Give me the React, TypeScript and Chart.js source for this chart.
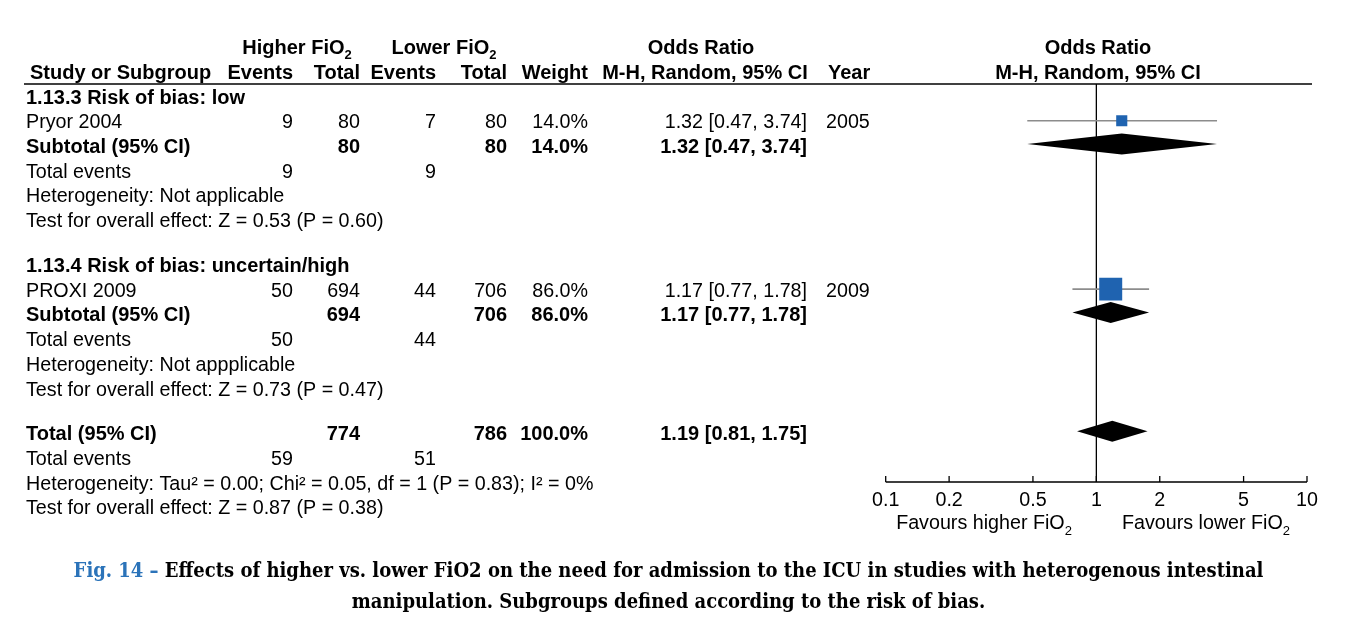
import React, { useEffect, useRef } from "react";
import { Chart, registerables } from "chart.js";

Chart.register(...registerables);

// ---------------- DATA ----------------
const studyNames = ["Pryor 2004", "PROXI 2009"];
const studyYears = ["2005", "2009"];
const studyHigherEvents = [9, 50];
const studyHigherTotal = [80, 694];
const studyLowerEvents = [7, 44];
const studyLowerTotal = [80, 706];
const studyWeights = [14.0, 86.0];
const studyOR = [1.32, 1.17];
const studyLo = [0.47, 0.77];
const studyHi = [3.74, 1.78];

const groupTitles = ["1.13.3 Risk of bias: low", "1.13.4 Risk of bias: uncertain/high"];
const groupHigherTotal = [80, 694];
const groupLowerTotal = [80, 706];
const groupWeights = [14.0, 86.0];
const groupHigherEvents = [9, 50];
const groupLowerEvents = [9, 44];
const groupOR = [1.32, 1.17];
const groupLo = [0.47, 0.77];
const groupHi = [3.74, 1.78];
const groupHeterogeneity = ["Heterogeneity: Not applicable", "Heterogeneity: Not appplicable"];
const groupEffect = [
  "Test for overall effect: Z = 0.53 (P = 0.60)",
  "Test for overall effect: Z = 0.73 (P = 0.47)",
];

const totalLabel = ["Total (95% CI)"];
const totalHigherTotal = [774];
const totalLowerTotal = [786];
const totalWeight = [100.0];
const totalHigherEvents = [59];
const totalLowerEvents = [51];
const totalOR = [1.19];
const totalLo = [0.81];
const totalHi = [1.75];
const totalHeterogeneity = ["Heterogeneity: Tau² = 0.00; Chi² = 0.05, df = 1 (P = 0.83); I² = 0%"];
const totalEffect = ["Test for overall effect: Z = 0.87 (P = 0.38)"];

const axisTicks = [0.1, 0.2, 0.5, 1, 2, 5, 10];
const axisTickLabels = ["0.1", "0.2", "0.5", "1", "2", "5", "10"];

// ---------------- LAYOUT ----------------
const GROUP_STEP = 6.8; // rows per subgroup block incl. gap
const TOTAL_START = 2 * GROUP_STEP;
const FONT = '"Liberation Sans", Arial, Helvetica, sans-serif';
const FS_BOLD = 20;
const FS_NORMAL = 19.7;
const TEXT_DY = 2;
const COL = {
  label: 26,
  head: 30,
  he: 293,
  ht: 360,
  le: 436,
  lt: 507,
  w: 588,
  ci: 807,
  ciHead: 705,
  year: 826,
  higherHead: 297,
  lowerHead: 444,
  plotHead: 1098,
};

const fmtW = (w: number) => `${w.toFixed(1)}%`;
const fmtCI = (o: number, l: number, h: number) =>
  `${o.toFixed(2)} [${l.toFixed(2)}, ${h.toFixed(2)}]`;

type Part = { t: string; sub?: boolean };

function drawParts(
  ctx: CanvasRenderingContext2D,
  parts: Part[],
  x: number,
  y: number,
  align: "left" | "right" | "center",
  bold: boolean
) {
  const f = (sub?: boolean) =>
    `${bold ? "bold " : ""}${sub ? 13 : bold ? FS_BOLD : FS_NORMAL}px ${FONT}`;
  let total = 0;
  parts.forEach((p) => {
    ctx.font = f(p.sub);
    total += ctx.measureText(p.t).width;
  });
  let cx = align === "left" ? x : align === "right" ? x - total : x - total / 2;
  ctx.textAlign = "left";
  ctx.textBaseline = "middle";
  parts.forEach((p) => {
    ctx.font = f(p.sub);
    ctx.fillText(p.t, cx, (p.sub ? y + 7 : y) + TEXT_DY);
    cx += ctx.measureText(p.t).width;
  });
}

function txt(
  ctx: CanvasRenderingContext2D,
  s: string,
  x: number,
  y: number,
  align: "left" | "right" | "center" = "left",
  bold = false
) {
  drawParts(ctx, [{ t: s }], x, y, align, bold);
}

const forestPlugin = {
  id: "forestDecor",
  beforeDatasetsDraw(chart: any) {
    const { ctx, scales, chartArea } = chart;
    const x1 = scales.x.getPixelForValue(1);
    ctx.save();
    ctx.strokeStyle = "#000";
    ctx.lineWidth = 1.3;
    ctx.beginPath();
    ctx.moveTo(x1, chartArea.top);
    ctx.lineTo(x1, chartArea.bottom);
    ctx.stroke();
    ctx.restore();
  },
  afterDatasetsDraw(chart: any) {
    const { ctx, scales } = chart;
    const X = scales.x;
    const Y = scales.y;
    const diamonds: [number, number, number, number][] = [];
    groupOR.forEach((o, g) => diamonds.push([g * GROUP_STEP + 2, o, groupLo[g], groupHi[g]]));
    totalOR.forEach((o, i) => diamonds.push([TOTAL_START + i, o, totalLo[i], totalHi[i]]));
    ctx.save();
    ctx.fillStyle = "#000";
    diamonds.forEach(([row, o, l, h]) => {
      const y = Y.getPixelForValue(row) - 1.5;
      const hh = 10.5;
      ctx.beginPath();
      ctx.moveTo(X.getPixelForValue(l), y);
      ctx.lineTo(X.getPixelForValue(o), y - hh);
      ctx.lineTo(X.getPixelForValue(h), y);
      ctx.lineTo(X.getPixelForValue(o), y + hh);
      ctx.closePath();
      ctx.fill();
    });
    ctx.restore();
  },
  afterDraw(chart: any) {
    const { ctx, scales, chartArea } = chart;
    const X = scales.x;
    const Y = scales.y;
    const py = (r: number) => Y.getPixelForValue(r);
    ctx.save();
    ctx.fillStyle = "#000";

    // header
    const h1 = py(-2);
    const h2 = py(-1);
    drawParts(ctx, [{ t: "Higher FiO" }, { t: "2", sub: true }], COL.higherHead, h1, "center", true);
    drawParts(ctx, [{ t: "Lower FiO" }, { t: "2", sub: true }], COL.lowerHead, h1, "center", true);
    txt(ctx, "Odds Ratio", COL.ciHead - 4, h1, "center", true);
    txt(ctx, "Odds Ratio", COL.plotHead, h1, "center", true);
    txt(ctx, "Study or Subgroup", COL.head, h2, "left", true);
    txt(ctx, "Events", COL.he, h2, "right", true);
    txt(ctx, "Total", COL.ht, h2, "right", true);
    txt(ctx, "Events", COL.le, h2, "right", true);
    txt(ctx, "Total", COL.lt, h2, "right", true);
    txt(ctx, "Weight", COL.w, h2, "right", true);
    txt(ctx, "M-H, Random, 95% CI", COL.ciHead, h2, "center", true);
    txt(ctx, "Year", COL.year + 2, h2, "left", true);
    txt(ctx, "M-H, Random, 95% CI", COL.plotHead, h2, "center", true);

    // header rule
    ctx.strokeStyle = "#000";
    ctx.lineWidth = 1.3;
    ctx.beginPath();
    ctx.moveTo(24, chartArea.top);
    ctx.lineTo(1312, chartArea.top);
    ctx.stroke();

    // subgroups
    groupTitles.forEach((title, g) => {
      const base = g * GROUP_STEP;
      txt(ctx, title, COL.label, py(base), "left", true);
      const sy = py(base + 1);
      txt(ctx, studyNames[g], COL.label, sy);
      txt(ctx, String(studyHigherEvents[g]), COL.he, sy, "right");
      txt(ctx, String(studyHigherTotal[g]), COL.ht, sy, "right");
      txt(ctx, String(studyLowerEvents[g]), COL.le, sy, "right");
      txt(ctx, String(studyLowerTotal[g]), COL.lt, sy, "right");
      txt(ctx, fmtW(studyWeights[g]), COL.w, sy, "right");
      txt(ctx, fmtCI(studyOR[g], studyLo[g], studyHi[g]), COL.ci, sy, "right");
      txt(ctx, studyYears[g], COL.year, sy, "left");
      const st = py(base + 2);
      txt(ctx, "Subtotal (95% CI)", COL.label, st, "left", true);
      txt(ctx, String(groupHigherTotal[g]), COL.ht, st, "right", true);
      txt(ctx, String(groupLowerTotal[g]), COL.lt, st, "right", true);
      txt(ctx, fmtW(groupWeights[g]), COL.w, st, "right", true);
      txt(ctx, fmtCI(groupOR[g], groupLo[g], groupHi[g]), COL.ci, st, "right", true);
      const te = py(base + 3);
      txt(ctx, "Total events", COL.label, te);
      txt(ctx, String(groupHigherEvents[g]), COL.he, te, "right");
      txt(ctx, String(groupLowerEvents[g]), COL.le, te, "right");
      txt(ctx, groupHeterogeneity[g], COL.label, py(base + 4));
      txt(ctx, groupEffect[g], COL.label, py(base + 5));
    });

    // overall
    totalLabel.forEach((lab, i) => {
      const ty = py(TOTAL_START);
      txt(ctx, lab, COL.label, ty, "left", true);
      txt(ctx, String(totalHigherTotal[i]), COL.ht, ty, "right", true);
      txt(ctx, String(totalLowerTotal[i]), COL.lt, ty, "right", true);
      txt(ctx, fmtW(totalWeight[i]), COL.w, ty, "right", true);
      txt(ctx, fmtCI(totalOR[i], totalLo[i], totalHi[i]), COL.ci, ty, "right", true);
      const te = py(TOTAL_START + 1);
      txt(ctx, "Total events", COL.label, te);
      txt(ctx, String(totalHigherEvents[i]), COL.he, te, "right");
      txt(ctx, String(totalLowerEvents[i]), COL.le, te, "right");
      txt(ctx, totalHeterogeneity[i], COL.label, py(TOTAL_START + 2));
      txt(ctx, totalEffect[i], COL.label, py(TOTAL_START + 3));
    });

    // x axis
    const ay = chartArea.bottom;
    ctx.beginPath();
    ctx.moveTo(X.getPixelForValue(axisTicks[0]), ay);
    ctx.lineTo(X.getPixelForValue(axisTicks[axisTicks.length - 1]), ay);
    axisTicks.forEach((t) => {
      const tx = X.getPixelForValue(t);
      ctx.moveTo(tx, ay);
      ctx.lineTo(tx, ay - 6);
    });
    ctx.stroke();
    axisTicks.forEach((t, i) => {
      txt(ctx, axisTickLabels[i], X.getPixelForValue(t), ay + 17, "center");
    });
    drawParts(ctx, [{ t: "Favours higher FiO" }, { t: "2", sub: true }], 984, ay + 40, "center", false);
    drawParts(ctx, [{ t: "Favours lower FiO" }, { t: "2", sub: true }], 1206, ay + 40, "center", false);
    ctx.restore();
  },
};

export default function App() {
  const ref = useRef<HTMLCanvasElement | null>(null);

  useEffect(() => {
    if (!ref.current) return;
    const ciSets = studyNames.map((n, i) => ({
      label: `${n} CI`,
      data: [
        { x: studyLo[i], y: i * GROUP_STEP + 1 },
        { x: studyHi[i], y: i * GROUP_STEP + 1 },
      ],
      showLine: true,
      borderColor: "#8c8c8c",
      borderWidth: 1.6,
      pointRadius: 0,
      order: 2,
    }));
    const squares = {
      label: "Study OR",
      data: studyNames.map((_, i) => ({ x: studyOR[i], y: i * GROUP_STEP + 1 })),
      pointStyle: "rect",
      pointRadius: studyWeights.map((w) => (8.8 + 0.165 * w) / Math.SQRT2),
      backgroundColor: "#1f63b0",
      borderWidth: 0,
      order: 1,
    };
    const chart = new Chart(ref.current, {
      type: "scatter",
      data: { datasets: [...ciSets, squares] as any },
      options: {
        animation: false,
        responsive: false,
        devicePixelRatio: 1,
        layout: { padding: { left: 885.7, right: 53, top: 84, bottom: 159 } },
        plugins: { legend: { display: false }, tooltip: { enabled: false } },
        scales: {
          x: { type: "logarithmic", min: 0.1, max: 10, display: false },
          y: { type: "linear", min: -0.485, max: 15.59, reverse: true, display: false },
        },
      },
      plugins: [forestPlugin],
    });
    return () => chart.destroy();
  }, []);

  return (
    <div style={{ position: "absolute", left: 0, top: 0, width: 1360, height: 641, background: "#fff" }}>
      <canvas ref={ref} width={1360} height={641} style={{ position: "absolute", left: 0, top: 0 }} />
      <div
        style={{
          position: "absolute",
          left: 0,
          top: 554.5,
          width: 1337,
          textAlign: "center",
          fontFamily: '"DejaVu Serif Condensed", "DejaVu Serif", serif',
          fontStretch: "condensed",
          fontWeight: "bold",
          fontSize: 20,
          lineHeight: "31px",
          whiteSpace: "nowrap",
          color: "#000",
        }}
      >
        <span style={{ color: "#2b73b9" }}>Fig. 14 –</span> Effects of higher vs. lower FiO2 on the need for
        admission to the ICU in studies with heterogenous intestinal
        <br />
        manipulation. Subgroups defined according to the risk of bias.
      </div>
    </div>
  );
}
